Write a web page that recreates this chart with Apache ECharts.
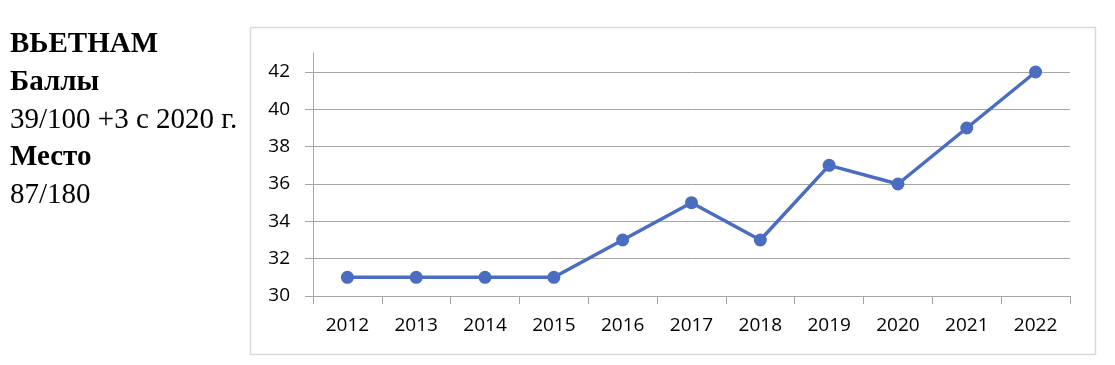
<!DOCTYPE html>
<html>
<head>
<meta charset="utf-8">
<script src="https://cdn.jsdelivr.net/npm/echarts@6/dist/echarts.min.js"></script>
<style>
html,body{margin:0;padding:0;background:#fff;}
#chart{width:1115px;height:365px;}
</style>
</head>
<body>
<div id="chart"></div>
<script>
const years = ['2012','2013','2014','2015','2016','2017','2018','2019','2020','2021','2022'];
const scores = [31, 31, 31, 31, 33, 35, 33, 37, 36, 39, 42];
const yTicks = [30, 32, 34, 36, 38, 40, 42];
const sideLines = [
  {text: 'ВЬЕТНАМ', bold: true},
  {text: 'Баллы', bold: true},
  {text: '39/100 +3 с 2020 г.', bold: false},
  {text: 'Место', bold: true},
  {text: '87/180', bold: false}
];

const chart = echarts.init(document.getElementById('chart'), null, {renderer: 'canvas'});
const blue = '#4a6dc1';
const gridGray = '#a6a6a6';
const labelFont = '"Open Sans", "Noto Sans", sans-serif';

const sideGraphics = sideLines.map((l, i) => ({
  type: 'text',
  left: 10,
  top: 45 + i * 37.5 - 14.5,
  style: {
    text: l.text,
    font: (l.bold ? 'bold ' : '') + '29px "Liberation Serif", "Times New Roman", serif',
    fill: '#000'
  }
}));

chart.setOption({
  animation: false,
  backgroundColor: '#fff',
  graphic: [
    {
      type: 'rect',
      shape: {x: 250.5, y: 27.5, width: 845, height: 327},
      style: {fill: 'none', stroke: '#d9d9d9', lineWidth: 1.5},
      z: -1
    }
  ].concat(sideGraphics),
  grid: [
    {left: 313, right: 45, top: 72, bottom: 69},
    {left: 313, right: 45, top: 53, bottom: 69}
  ],
  xAxis: [
    {
      type: 'category',
      gridIndex: 0,
      data: years,
      boundaryGap: true,
      axisLine: {show: true, lineStyle: {color: gridGray, width: 1}},
      axisTick: {show: true, length: 8, lineStyle: {color: gridGray}},
      axisLabel: {color: '#000', fontSize: 19, fontFamily: labelFont, margin: 20}
    },
    {
      type: 'category',
      gridIndex: 1,
      data: years,
      show: false
    }
  ],
  yAxis: [
    {
      type: 'value',
      gridIndex: 0,
      min: yTicks[0],
      max: yTicks[yTicks.length - 1],
      interval: 2,
      axisLine: {show: false},
      axisTick: {show: true, length: 8, lineStyle: {color: gridGray}},
      splitLine: {show: true, lineStyle: {color: gridGray, width: 1}},
      axisLabel: {color: '#000', fontSize: 19, fontFamily: labelFont, margin: 23}
    },
    {
      type: 'value',
      gridIndex: 1,
      min: 30,
      max: 43,
      axisLine: {show: true, lineStyle: {color: gridGray, width: 1}},
      axisTick: {show: false},
      axisLabel: {show: false},
      splitLine: {show: false}
    }
  ],
  series: [
    {
      type: 'line',
      xAxisIndex: 0,
      yAxisIndex: 0,
      data: scores,
      symbol: 'circle',
      symbolSize: 13,
      lineStyle: {color: blue, width: 3.5},
      itemStyle: {color: blue},
      z: 5
    }
  ]
});
</script>
</body>
</html>
